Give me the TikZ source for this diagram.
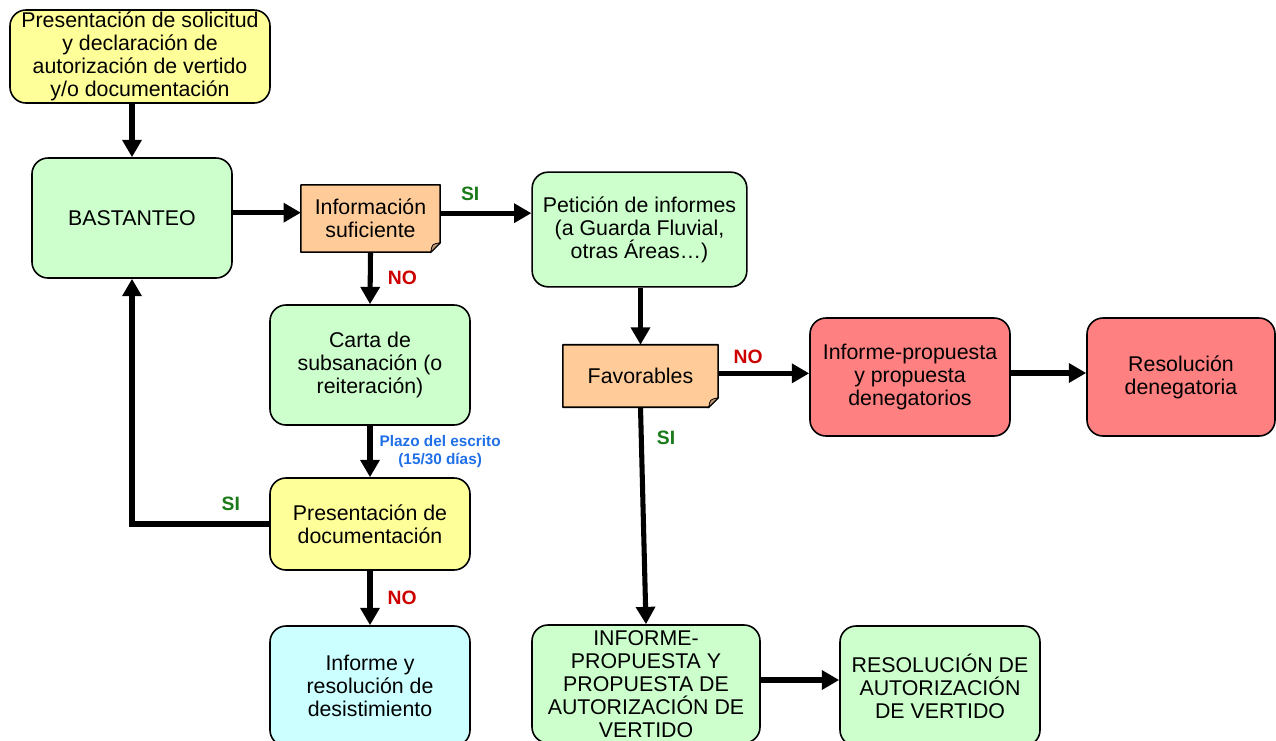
\documentclass[tikz,border=0pt]{standalone}
\usepackage{fontspec}
\setmainfont{Liberation Sans}
\usepackage{xcolor}
\usetikzlibrary{arrows.meta,positioning,calc}

\definecolor{boxyellow}{HTML}{FFFF99}
\definecolor{boxgreen}{HTML}{CCFFCC}
\definecolor{boxorange}{HTML}{FFCC99}
\definecolor{boxred}{HTML}{FF8080}
\definecolor{boxcyan}{HTML}{CCFFFF}
\definecolor{yesgreen}{HTML}{1A7A1A}
\definecolor{nored}{HTML}{CC0000}
\definecolor{noteblue}{HTML}{1F6FE8}

\newcommand{\boxfont}{\fontsize{16}{17.25}\selectfont}
\newcommand{\lblfont}{\fontsize{14.5}{16}\selectfont\bfseries}
\newcommand{\notefont}{\fontsize{11.5}{13}\selectfont\bfseries}

% outline with folded corner for the decision boxes
\newcommand{\dogear}[1]{%
  \fill[white] ([yshift=7pt]#1.south east) -- (#1.south east) -- ([xshift=-7pt]#1.south east) -- cycle;
  \draw[line width=1.2pt, line join=round] (#1.south west) -- (#1.north west) -- (#1.north east)
    -- ([yshift=7pt]#1.south east) -- ([xshift=-7pt]#1.south east) -- cycle;
  \draw[line width=0.6pt, fill=boxorange!75!black] ([yshift=7pt]#1.south east)
    .. controls ([xshift=-6pt,yshift=6pt]#1.south east) .. ([xshift=-7pt]#1.south east) -- cycle;
}

\begin{document}
\begin{tikzpicture}[
  x=0.75pt, y=-0.75pt,
  box/.style={draw, rounded corners=12pt, line width=1.2pt, align=center, font=\boxfont, inner sep=1pt},
  docbox/.style={fill=boxorange, align=center, font=\boxfont},
  arr/.style={-{Triangle[length=13pt,width=14pt]}, line width=3.8pt},
  si/.style={font=\lblfont, text=yesgreen},
  no/.style={font=\lblfont, text=nored},
  note/.style={font=\notefont, text=noteblue, align=center}
]
  \useasboundingbox (0,0) rectangle (1276,740);

  \node[box, fill=boxyellow, minimum width=195pt, minimum height=69.75pt] (solic) at (140,56.5)
    {Presentación de solicitud\\y declaración de\\autorización de vertido\\y/o documentación};
  \node[box, fill=boxgreen, minimum width=150pt, minimum height=90pt] (bast) at (132,218) {BASTANTEO};
  \node[docbox, minimum width=104pt, minimum height=50pt] (info) at (370.5,218.5) {Información\\suficiente};
  \dogear{info}
  \node[box, fill=boxgreen, minimum width=161pt, minimum height=86pt] (pet) at (639.5,229.5)
    {Petición de informes\\(a Guarda Fluvial,\\otras Áreas…)};
  \node[box, fill=boxgreen, minimum width=150pt, minimum height=90pt] (carta) at (370,365)
    {Carta de\\subsanación (o\\reiteración)};
  \node[docbox, minimum width=116pt, minimum height=46.5pt] (fav) at (640.5,376) {Favorables};
  \dogear{fav}
  \node[box, fill=boxred, minimum width=150pt, minimum height=88.5pt] (infden) at (910,377)
    {Informe-propuesta\\y propuesta\\denegatorios};
  \node[box, fill=boxred, minimum width=141pt, minimum height=88.5pt] (resden) at (1181,377)
    {Resolución\\denegatoria};
  \node[box, fill=boxyellow, minimum width=150pt, minimum height=69pt] (presdoc) at (370,524)
    {Presentación de\\documentación};
  \node[box, fill=boxcyan, minimum width=150pt, minimum height=90pt] (desist) at (370,686)
    {Informe y\\resolución de\\desistimiento};
  \node[box, fill=boxgreen, minimum width=171pt, minimum height=88.5pt] (infprop) at (646,684)
    {INFORME-\\PROPUESTA Y\\PROPUESTA DE\\AUTORIZACIÓN DE\\VERTIDO};
  \node[box, fill=boxgreen, minimum width=150pt, minimum height=90pt] (resaut) at (940,686)
    {RESOLUCIÓN DE\\AUTORIZACIÓN\\DE VERTIDO};

  \draw[arr] (solic.south -| bast.north) -- (bast.north);
  \draw[arr] ([yshift=4pt]bast.east) -- ([yshift=4pt]bast.east -| info.west);
  \draw[arr] ([yshift=4pt]info.east) -- node[si, pos=0.33, above=4pt] {SI} ([yshift=4pt]info.east -| pet.west);
  \draw[arr] (info.south) -- node[no, midway, right=8pt] {NO} (carta.north);
  \draw[arr] (pet.south -| fav.north) -- (fav.north);
  \draw[arr] ([yshift=2pt]fav.east) -- node[no, pos=0.33, above=2pt] {NO} ([yshift=2pt]fav.east -| infden.west);
  \draw[arr] ([yshift=3pt]infden.east) -- ([yshift=3pt]resden.west);
  \draw[arr] (fav.south) -- node[si, pos=0.14, right=6.5pt] {SI} (infprop.north);
  \draw[arr] ([yshift=3pt]infprop.east) -- ([yshift=3pt]infprop.east -| resaut.west);
  \draw[arr] (carta.south) -- node[note, midway, right=2pt] {Plazo del escrito\\(15/30 días)} (presdoc.north);
  \draw[arr] (presdoc.west) -| node[si, pos=0.14, above=5pt] {SI} (bast.south);
  \draw[arr] (presdoc.south) -- node[no, midway, right=8pt] {NO} (desist.north);
\end{tikzpicture}
\end{document}
